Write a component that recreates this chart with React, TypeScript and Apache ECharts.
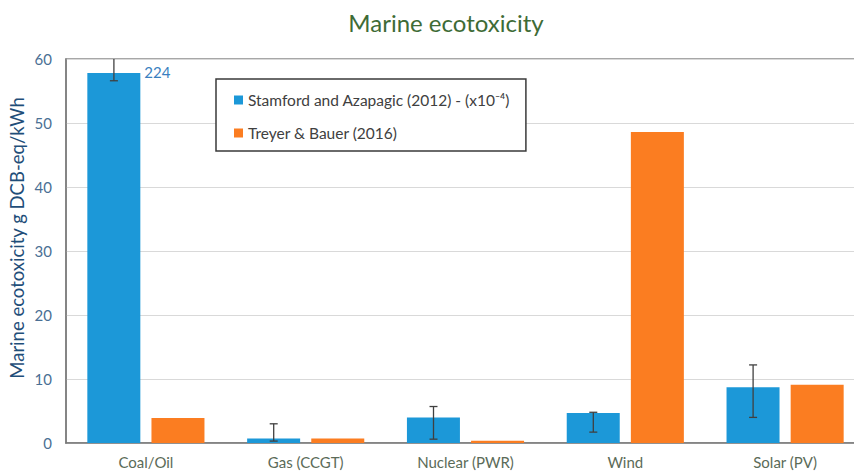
import React, { useEffect, useRef } from "react";
import * as echarts from "echarts";

const categories = ["Coal/Oil", "Gas (CCGT)", "Nuclear (PWR)", "Wind", "Solar (PV)"];
const stamfordValues = [57.8, 0.7, 4.0, 4.7, 8.7];
const treyerValues = [3.9, 0.7, 0.35, 48.6, 9.1];
const stamfordErrLow = [56.6, 0.3, 0.6, 1.7, 4.0];
const stamfordErrHigh = [62, 3.0, 5.7, 4.8, 12.2];
const coalLabel = "224";
const seriesNames = ["Stamford and Azapagic (2012) - (x10⁻⁴)", "Treyer & Bauer (2016)"];
const yTicks = [0, 10, 20, 30, 40, 50, 60];
const yAxisTitle = "Marine ecotoxicity g DCB-eq/kWh";

const FONT = "Lato, 'Open Sans', sans-serif";

export default function App() {
  const ref = useRef<HTMLDivElement>(null);
  useEffect(() => {
    const chart = echarts.init(ref.current!, null, { renderer: "svg" });
    const errData = categories.map((_, i) => [i, stamfordErrLow[i], stamfordErrHigh[i]]);
    chart.setOption({
      animation: false,
      title: {
        text: "Marine ecotoxicity",
        left: 441,
        top: 5,
        textAlign: "center",
        textStyle: { color: "#3e6b36", fontSize: 24, fontWeight: "normal", fontFamily: FONT },
      },
      graphic: [
        {
          type: "text",
          x: 17,
          y: 238,
          rotation: Math.PI / 2,
          style: {
            text: yAxisTitle,
            fill: "#1f4e79",
            fontSize: 18.5,
            fontFamily: FONT,
            textAlign: "center",
            textVerticalAlign: "middle",
          },
        },
      ],
      legend: {
        orient: "vertical",
        left: 216,
        top: 79,
        padding: [13, 16, 10, 18],
        itemGap: 17,
        itemWidth: 9,
        itemHeight: 9,
        borderColor: "#3a3a3a",
        borderWidth: 1.5,
        backgroundColor: "#fff",
        icon: "rect",
        textStyle: { color: "#404040", fontSize: 15.5, fontFamily: FONT },
        data: seriesNames,
      },
      grid: {
        left: 66,
        top: 59,
        bottom: 29,
        width: 799,
        show: true,
        borderColor: "#8a8a8a",
        borderWidth: 1.5,
        backgroundColor: "transparent",
      },
      xAxis: {
        type: "category",
        data: categories,
        axisTick: { show: false },
        axisLine: { lineStyle: { color: "#7a7a7a", width: 1.5 } },
        axisLabel: { color: "#5b6b58", fontSize: 15, fontFamily: FONT, margin: 11 },
      },
      yAxis: {
        type: "value",
        min: yTicks[0],
        max: yTicks[yTicks.length - 1],
        interval: 10,
        axisLine: { show: true, lineStyle: { color: "#7a7a7a", width: 1.5 } },
        axisTick: { show: false },
        axisLabel: { color: "#4a6f94", fontSize: 15, fontFamily: FONT, margin: 14 },
        splitLine: { lineStyle: { color: "#d9d9d9", width: 1.2 } },
      },
      series: [
        {
          name: seriesNames[0],
          type: "bar",
          barWidth: 53,
          barGap: "21%",
          itemStyle: { color: "#1c98d8" },
          data: stamfordValues.map((v, i) =>
            i === 0
              ? {
                  value: v,
                  label: {
                    show: true,
                    formatter: coalLabel,
                    position: [57, -9],
                    color: "#3a7fc0",
                    fontSize: 15,
                    fontFamily: FONT,
                  },
                }
              : v
          ),
        },
        {
          name: seriesNames[1],
          type: "bar",
          barWidth: 53,
          itemStyle: { color: "#fb7d21" },
          data: treyerValues,
        },
        {
          type: "custom",
          clip: true,
          z: 10,
          data: errData,
          renderItem: (params: any, api: any) => {
            const idx = api.value(0);
            const lo = api.coord([idx, api.value(1)]);
            const hi = api.coord([idx, api.value(2)]);
            const x = lo[0] - 32;
            const cap = 4;
            const style = { stroke: "#404040", lineWidth: 1.3 };
            return {
              type: "group",
              children: [
                { type: "line", shape: { x1: x, y1: lo[1], x2: x, y2: hi[1] }, style },
                { type: "line", shape: { x1: x - cap, y1: lo[1], x2: x + cap, y2: lo[1] }, style },
                { type: "line", shape: { x1: x - cap, y1: hi[1], x2: x + cap, y2: hi[1] }, style },
              ],
            };
          },
        },
      ],
    });
    return () => chart.dispose();
  }, []);
  return (
    <div style={{ position: "absolute", left: 0, top: 0, width: 854, height: 472, overflow: "hidden" }}>
      <div ref={ref} style={{ width: 880, height: 472 }} />
    </div>
  );
}
